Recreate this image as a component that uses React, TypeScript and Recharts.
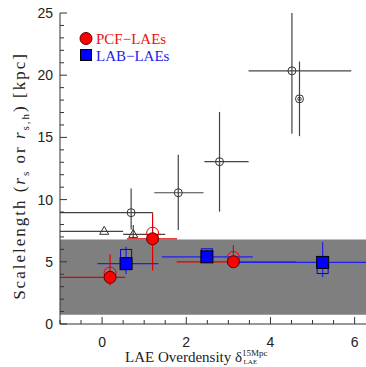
import React from "react";
import {
  ComposedChart,
  ErrorBar,
  ReferenceArea,
  Scatter,
  XAxis,
  YAxis,
} from "recharts";

// tick values
const xTicks = [-1, -0.5, 0, 0.5, 1, 1.5, 2, 2.5, 3, 3.5, 4, 4.5, 5, 5.5, 6];
const xMajor = [0, 2, 4, 6];
const yTicks = [0, 1, 2, 3, 4, 5, 6, 7, 8, 9, 10, 11, 12, 13, 14, 15, 16, 17, 18, 19, 20, 21, 22, 23, 24, 25];
const yMajor = [0, 5, 10, 15, 20, 25];

// gray band (scale length range)
const bandLow = 0.75;
const bandHigh = 6.8;

// PCF-LAEs (red), filled: r_s, open: r_s,h
const pcfFilled = [
  { x: 0.19, y: 3.75, xLo: -1, xHi: 0.55, yLo: 3.1, yHi: 5.6 },
  { x: 1.2, y: 6.85, xLo: 0.59, xHi: 1.78, yLo: 4.3, yHi: 8.9 },
  { x: 3.12, y: 5.0, xLo: 1.77, xHi: 4.6, yLo: 4.5, yHi: 6.35 },
];
const pcfOpen = [
  { x: 0.19, y: 4.1 },
  { x: 1.2, y: 7.3 },
  { x: 3.12, y: 5.35 },
];

// LAB-LAEs (blue)
const labFilled = [
  { x: 0.57, y: 4.85, xLo: -0.11, xHi: 1.34, yLo: 4.0, yHi: 6.2 },
  { x: 2.49, y: 5.4, xLo: 1.42, xHi: 3.58, yLo: 5.0, yHi: 5.95 },
  { x: 5.24, y: 4.95, xLo: 3.15, xHi: 6.3, yLo: 3.75, yHi: 6.6 },
];
const labOpen = [
  { x: 0.57, y: 5.55 },
  { x: 2.49, y: 5.6 },
  { x: 5.24, y: 4.5 },
];

// literature points (black)
const litCircles = [
  { x: 0.69, y: 8.95, xLo: -1, xHi: 1.21, yLo: 7.6, yHi: 10.9 },
  { x: 1.81, y: 10.55, xLo: 1.24, xHi: 2.41, yLo: 7.55, yHi: 13.6 },
  { x: 2.79, y: 13.05, xLo: 2.43, xHi: 3.48, yLo: 9.03, yHi: 17.05 },
  { x: 4.51, y: 20.35, xLo: 3.48, xHi: 5.92, yLo: 15.3, yHi: 25 },
];
const litDotted = [{ x: 4.69, y: 18.1, xLo: 4.69, xHi: 4.69, yLo: 15.1, yHi: 21.1 }];
const litTriangles = [
  { x: 0.05, y: 7.45, xLo: -1, xHi: 0.5, yLo: 7.45, yHi: 7.45 },
  { x: 0.74, y: 7.2, xLo: 0.5, xHi: 1.5, yLo: 6.9, yHi: 7.96 },
];

type Pt = { x: number; y: number; xLo: number; xHi: number; yLo: number; yHi: number };

const withErr = (rows: Pt[]) =>
  rows.map((d) => ({
    ...d,
    ex: [d.x - d.xLo, d.xHi - d.x],
    ey: [d.y - d.yLo, d.yHi - d.y],
  }));

const AX = "#333";
const TICK_FONT = { fontFamily: "Liberation Sans", fontSize: 14, fill: "#222" };

function BottomTick({ x, y, payload }: any) {
  const major = xMajor.includes(payload.value);
  return (
    <g>
      <line x1={x} x2={x} y1={y} y2={y - (major ? 7 : 4)} stroke={AX} />
      {major && (
        <text x={x} y={y + 23} textAnchor="middle" {...TICK_FONT}>
          {payload.value}
        </text>
      )}
    </g>
  );
}

function TopTick({ x, y, payload }: any) {
  const major = xMajor.includes(payload.value);
  return <line x1={x} x2={x} y1={y} y2={y + (major ? 7 : 4)} stroke={AX} />;
}

function LeftTick({ x, y, payload }: any) {
  const major = yMajor.includes(payload.value);
  return (
    <g>
      <line x1={x} x2={x + (major ? 7 : 4)} y1={y} y2={y} stroke={AX} />
      {major && (
        <text x={x - 7} y={y + 5} textAnchor="end" {...TICK_FONT}>
          {payload.value}
        </text>
      )}
    </g>
  );
}

const redFilled = (p: any) => (
  <circle cx={p.cx} cy={p.cy} r={6} fill="#ff0000" stroke="#5a0000" strokeWidth={1} />
);
const redOpen = (p: any) => (
  <circle cx={p.cx} cy={p.cy} r={6} fill="none" stroke="#ee0000" strokeWidth={1} />
);
const blueFilled = (p: any) => (
  <rect x={p.cx - 6} y={p.cy - 6} width={12} height={12} fill="#0000ff" stroke="#000" strokeWidth={1} />
);
const blueOpen = (p: any) => (
  <rect x={p.cx - 5.5} y={p.cy - 5.5} width={11} height={11} fill="none" stroke="#0000ee" strokeWidth={1} />
);
const blackCircle = (p: any) => (
  <circle cx={p.cx} cy={p.cy} r={4} fill="none" stroke="#333" strokeWidth={1} />
);
const blackDotted = (p: any) => (
  <g>
    <circle cx={p.cx} cy={p.cy} r={4} fill="none" stroke="#333" strokeWidth={1} />
    <circle cx={p.cx} cy={p.cy} r={1.7} fill="none" stroke="#333" strokeWidth={1} />
  </g>
);
const blackTriangle = (p: any) => (
  <path
    d={`M${p.cx},${p.cy - 5} L${p.cx - 4.5},${p.cy + 3} L${p.cx + 4.5},${p.cy + 3} Z`}
    fill="none"
    stroke="#333"
    strokeWidth={1}
  />
);

const SERIF = "Liberation Serif";

export default function App() {
  return (
    <div style={{ position: "fixed", left: 0, top: 0, width: 366, height: 367, background: "#fff", overflow: "hidden" }}>
      <ComposedChart width={366} height={367} margin={{ top: 13, right: 0, bottom: 0, left: 0 }}>
        <XAxis
          type="number"
          dataKey="x"
          domain={[-1, 6.27]}
          allowDataOverflow
          ticks={xTicks}
          interval={0}
          tick={<BottomTick />}
          tickSize={0}
          tickMargin={0}
          tickLine={false}
          axisLine={{ stroke: AX }}
          height={43}
        />
        <XAxis
          xAxisId="top"
          orientation="top"
          type="number"
          dataKey="x"
          domain={[-1, 6.27]}
          allowDataOverflow
          ticks={xTicks}
          interval={0}
          tick={<TopTick />}
          tickSize={0}
          tickMargin={0}
          tickLine={false}
          axisLine={{ stroke: AX }}
          height={0}
        />
        <YAxis
          type="number"
          dataKey="y"
          domain={[0, 25]}
          allowDataOverflow
          ticks={yTicks}
          interval={0}
          tick={<LeftTick />}
          tickSize={0}
          tickMargin={0}
          tickLine={false}
          axisLine={{ stroke: AX }}
          width={60}
        />
        <ReferenceArea y1={bandLow} y2={bandHigh} fill="#7f7f7f" fillOpacity={1} stroke="none" />

        <Scatter data={withErr(litCircles)} shape={blackCircle} isAnimationActive={false}>
          <ErrorBar dataKey="ex" direction="x" width={0} stroke="#444" strokeWidth={1.2} />
          <ErrorBar dataKey="ey" direction="y" width={0} stroke="#444" strokeWidth={1.2} />
        </Scatter>
        <Scatter data={withErr(litDotted)} shape={blackDotted} isAnimationActive={false}>
          <ErrorBar dataKey="ey" direction="y" width={0} stroke="#444" strokeWidth={1.2} />
        </Scatter>
        <Scatter data={withErr(litTriangles)} shape={blackTriangle} isAnimationActive={false}>
          <ErrorBar dataKey="ex" direction="x" width={0} stroke="#444" strokeWidth={1.2} />
          <ErrorBar dataKey="ey" direction="y" width={0} stroke="#444" strokeWidth={1.2} />
        </Scatter>

        <Scatter data={pcfOpen} shape={redOpen} isAnimationActive={false} />
        <Scatter data={withErr(pcfFilled)} shape={redFilled} isAnimationActive={false}>
          <ErrorBar dataKey="ex" direction="x" width={0} stroke="#e00000" strokeWidth={1.2} />
          <ErrorBar dataKey="ey" direction="y" width={0} stroke="#e00000" strokeWidth={1.2} />
        </Scatter>
        <Scatter data={labOpen} shape={blueOpen} isAnimationActive={false} />
        <Scatter data={withErr(labFilled)} shape={blueFilled} isAnimationActive={false}>
          <ErrorBar dataKey="ex" direction="x" width={0} stroke="#2020ee" strokeWidth={1.2} />
          <ErrorBar dataKey="ey" direction="y" width={0} stroke="#2020ee" strokeWidth={1.2} />
        </Scatter>
      </ComposedChart>

      <svg width={366} height={367} style={{ position: "absolute", left: 0, top: 0, pointerEvents: "none" }}>
        {/* legend */}
        <circle cx={86} cy={38.5} r={6} fill="#ff0000" stroke="#5a0000" />
        <text x={96} y={43.5} fill="#ee1111" fontFamily={SERIF} fontSize={15}>
          PCF−LAEs
        </text>
        <rect x={80.5} y={49.5} width={11} height={11} fill="#0000ff" stroke="#000" />
        <text x={96} y={60.5} fill="#2222ee" fontFamily={SERIF} fontSize={15}>
          LAB−LAEs
        </text>

        {/* x title */}
        <text x={125} y={362} fill="#222" fontFamily={SERIF} fontSize={15}>
          LAE Overdensity δ
          <tspan fontSize={9} dy={-6}>15Mpc</tspan>
          <tspan fontSize={7} dx={-24} dy={8}>LAE</tspan>
        </text>

        {/* y title */}
        <text
          transform="translate(25,176) rotate(-90)"
          textAnchor="middle"
          fill="#222"
          fontFamily={SERIF}
          fontSize={17}
          letterSpacing={2}
        >
          Scalelength (<tspan fontStyle="italic">r</tspan>
          <tspan fontSize={11} dy={4}>s</tspan>
          <tspan dy={-4}> or </tspan>
          <tspan fontStyle="italic">r</tspan>
          <tspan fontSize={11} dy={4}>s,h</tspan>
          <tspan dy={-4}>) [kpc]</tspan>
        </text>
      </svg>
    </div>
  );
}
